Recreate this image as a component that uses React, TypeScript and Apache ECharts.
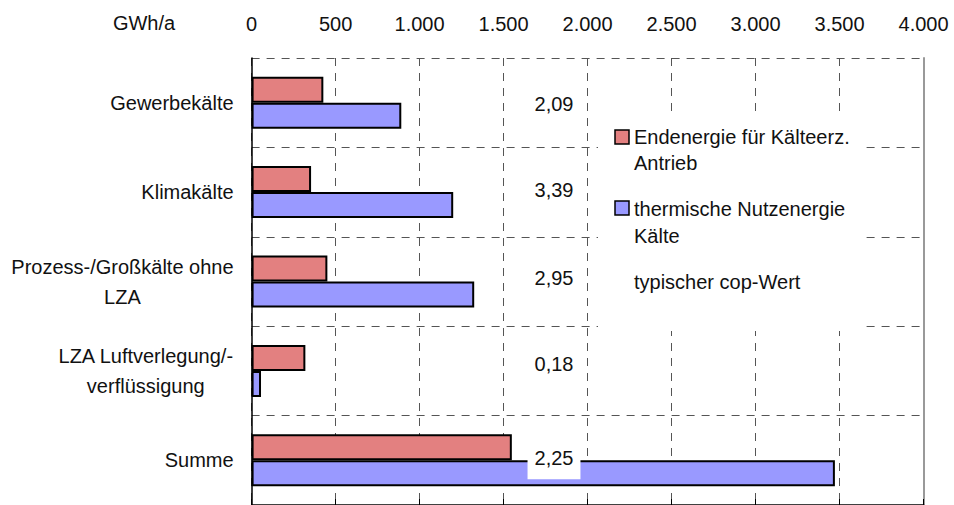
import React, { useEffect, useRef } from "react";
import * as echarts from "echarts";

// ---- data ----
const categories = [
  "Gewerbekälte",
  "Klimakälte",
  "Prozess-/Großkälte ohne\nLZA",
  "LZA Luftverlegung/-\nverflüssigung",
  "Summe",
];
const endenergie = [427, 354, 451, 320, 1549];
const nutzenergie = [891, 1200, 1325, 56, 3472];
const copValues = [2.09, 3.39, 2.95, 0.18, 2.25];
const seriesNames = ["Endenergie für Kälteerz. Antrieb", "thermische Nutzenergie Kälte"];
const legendLines = [
  ["Endenergie für Kälteerz.", "Antrieb"],
  ["thermische Nutzenergie", "Kälte"],
];
const copLegend = "typischer cop-Wert";
const unitLabel = "GWh/a";
const xMin = 0;
const xMax = 4000;
const xStep = 500;

// ---- layout / style ----
const FONT = '"Liberation Sans", Arial, sans-serif';
const FS = 20;
const TXT = "#111";
const RED = "#E38080";
const BLUE = "#9999FF";
const GRID_COLOR = "#555";
const DASH = [8, 7];
const COP_X = 1800; // x position of the cop labels in axis units
const COP_DY = [1, -2, -4, -7, -2];

function fmtThousands(v: number): string {
  return String(v).replace(/\B(?=(\d{3})+(?!\d))/g, ".");
}
function fmtCop(v: number): string {
  return v.toFixed(2).replace(".", ",");
}

export default function App() {
  const ref = useRef<HTMLDivElement>(null);
  useEffect(() => {
    if (!ref.current) return;
    const chart = echarts.init(ref.current, undefined, { renderer: "svg" });

    const copData = copValues.map((c, i) => {
      const item: any = {
        value: [COP_X, categories[i]],
        cop: c,
        label: { offset: [0, COP_DY[i]] },
      };
      if (i === categories.length - 1) {
        item.label = {
          offset: [0, COP_DY[i]],
          backgroundColor: "#ffffff",
          padding: [6, 7, 16, 7],
        };
      }
      return item;
    });

    const legendGraphics: any[] = [
      {
        type: "rect",
        shape: { x: 598, y: 111, width: 267, height: 220 },
        style: { fill: "#ffffff" },
        z: 100,
      },
      {
        type: "rect",
        shape: { x: 615, y: 130, width: 14, height: 14 },
        style: { fill: RED, stroke: "#000", lineWidth: 1.5 },
        z: 101,
      },
      {
        type: "text",
        x: 634,
        y: 124,
        style: {
          text: legendLines[0].join("\n"),
          fontSize: FS,
          fontFamily: FONT,
          fill: TXT,
          lineHeight: 26,
          verticalAlign: "top",
        },
        z: 101,
      },
      {
        type: "rect",
        shape: { x: 615, y: 201, width: 14, height: 14 },
        style: { fill: BLUE, stroke: "#000", lineWidth: 1.5 },
        z: 101,
      },
      {
        type: "text",
        x: 634,
        y: 195,
        style: {
          text: legendLines[1].join("\n"),
          fontSize: FS,
          fontFamily: FONT,
          fill: TXT,
          lineHeight: 27,
          verticalAlign: "top",
        },
        z: 101,
      },
      {
        type: "text",
        x: 634,
        y: 282,
        style: {
          text: copLegend,
          fontSize: FS,
          fontFamily: FONT,
          fill: TXT,
          verticalAlign: "middle",
        },
        z: 101,
      },
      {
        type: "text",
        x: 144,
        y: 23,
        style: {
          text: unitLabel,
          fontSize: FS,
          fontFamily: FONT,
          fill: TXT,
          align: "center",
          verticalAlign: "middle",
        },
        z: 101,
      },
    ];

    chart.setOption({
      animation: false,
      textStyle: { fontFamily: FONT },
      grid: { left: 251.6, top: 58, width: 672, height: 450, containLabel: false },
      xAxis: {
        type: "value",
        position: "top",
        min: xMin,
        max: xMax,
        interval: xStep,
        axisLine: { show: true, lineStyle: { color: "#000", width: 1.5 } },
        axisTick: { show: true, inside: false, length: 6, lineStyle: { color: "#000", width: 1 } },
        axisLabel: {
          margin: 24,
          fontSize: FS,
          fontFamily: FONT,
          color: TXT,
          formatter: (v: number) => fmtThousands(v),
        },
        splitLine: { show: true, lineStyle: { color: GRID_COLOR, type: DASH, width: 1 } },
      },
      yAxis: [
        {
          type: "category",
          data: categories,
          inverse: true,
          axisLine: { show: true, lineStyle: { color: "#000", width: 1.5 } },
          axisTick: { show: false },
          splitLine: { show: true, interval: 0, lineStyle: { color: GRID_COLOR, type: DASH, width: 1 } },
          axisLabel: {
            interval: 0,
            margin: 18,
            align: "right",
            fontSize: FS,
            fontFamily: FONT,
            color: TXT,
            formatter: (v: string) =>
              v
                .split("\n")
                .map((l) => `{c|${l}}`)
                .join("\n"),
            rich: {
              c: { align: "center", fontSize: FS, fontFamily: FONT, color: TXT, lineHeight: 30 },
            },
          },
        },
        {
          type: "value",
          position: "right",
          axisLine: { show: true, onZero: false, lineStyle: { color: "#999", width: 2 } },
          axisTick: { show: false },
          axisLabel: { show: false },
          splitLine: { show: false },
        },
      ],
      series: [
        {
          name: seriesNames[0],
          type: "bar",
          data: endenergie,
          barWidth: 26,
          barGap: "0%",
          itemStyle: { color: RED, borderColor: "#000", borderWidth: 2 },
        },
        {
          name: seriesNames[1],
          type: "bar",
          data: nutzenergie,
          barWidth: 26,
          barGap: "0%",
          itemStyle: { color: BLUE, borderColor: "#000", borderWidth: 2 },
        },
        {
          name: copLegend,
          type: "scatter",
          data: copData,
          symbolSize: 1,
          itemStyle: { color: "rgba(0,0,0,0)", opacity: 1 },
          z: 5,
          label: {
            show: true,
            position: "inside",
            opacity: 1,
            fontSize: FS,
            fontFamily: FONT,
            color: TXT,
            formatter: (p: any) => fmtCop(p.data.cop),
          },
        },
      ],
      graphic: legendGraphics,
    });
    return () => chart.dispose();
  }, []);
  return (
    <div
      ref={ref}
      style={{ position: "absolute", left: 0, top: 0, width: 954, height: 505, background: "#fff" }}
    />
  );
}
